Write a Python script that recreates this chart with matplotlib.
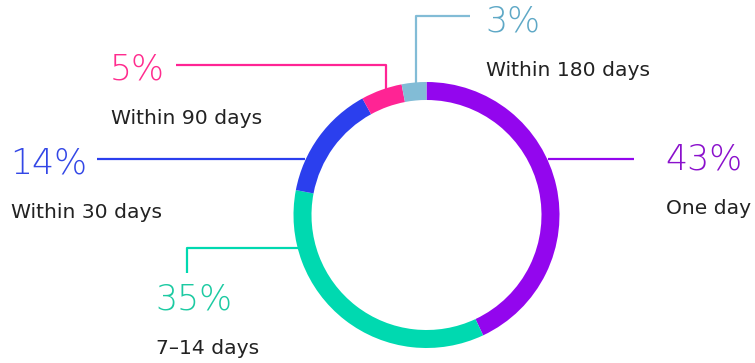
import matplotlib.pyplot as plt

# share of responses by time frame, clockwise from 12 o'clock
periods = ["One day", "7–14 days", "Within 30 days", "Within 90 days", "Within 180 days"]
shares = [43, 35, 14, 5, 3]
colors = ["#9306ee", "#00d9b0", "#2b3fee", "#ff2494", "#82bcd6"]
text_colors = ["#8a10cc", "#1ccaa2", "#3347e6", "#ff2c8e", "#5ea8c6"]

W, H = 755, 363
fig = plt.figure(figsize=(W / 100, H / 100), dpi=100)
ax = fig.add_axes([0, 0, 1, 1])

cx, cy, r = 426.5, H - 215, 133
ax.pie(shares, colors=colors, startangle=90, counterclock=False,
       center=(cx, cy), radius=r, wedgeprops=dict(width=18, linewidth=0))
ax.set_xlim(0, W)
ax.set_ylim(0, H)
ax.set_aspect("equal")
ax.axis("off")

# leader lines, in pixel coordinates measured from the top
leaders = [
    [(548, 159), (634, 159)],
    [(300, 248), (187, 248), (187, 273)],
    [(305, 159), (97, 159)],
    [(386, 89), (386, 65), (176, 65)],
    [(416, 83), (416, 16), (470, 16)],
]
# (x, y of the percentage, y of the caption)
labels = [(667, 159, 208), (157, 300, 348), (12, 163, 213), (112, 70, 118), (487, 22, 71)]

for pts, (tx, py, ly), name, v, c, tc in zip(leaders, labels, periods, shares, colors, text_colors):
    xs = [p[0] for p in pts]
    ys = [H - p[1] for p in pts]
    ax.plot(xs, ys, color=c, lw=1.6, solid_capstyle="butt")
    ax.text(tx - 2, H - py, f"{v}%", color=tc, fontsize=25, family="DejaVu Sans",
            fontweight="light", ha="left", va="center")
    ax.text(tx - 1, H - ly, name, color="#222222", fontsize=14.6, family="DejaVu Sans",
            ha="left", va="center")

fig.savefig("out.png", dpi=100)
